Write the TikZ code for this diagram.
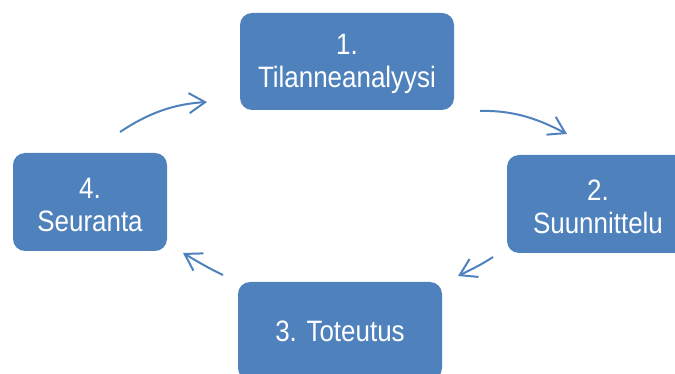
\documentclass[tikz,border=0pt]{standalone}
\usepackage{fontspec}
\setmainfont{Liberation Sans}
\newfontfamily\boxfont[FakeStretch=0.88]{Liberation Sans}
\usetikzlibrary{arrows.meta}
\definecolor{boxblue}{HTML}{4F81BD}
\newcommand{\topstrut}{\rule{0pt}{26pt}}
\tikzset{
  stepbox/.style={fill=boxblue, draw=none, rounded corners=12pt, text=white,
    align=center, font=\boxfont\fontsize{29.5pt}{33pt}\selectfont, inner sep=0pt},
  cyclearrow/.style={draw=boxblue, line width=2pt,
    -{Straight Barb[length=16pt,width=20pt,line width=2pt]}}
}
\begin{document}
\begin{tikzpicture}[x=1pt,y=-1pt]
\useasboundingbox (0,0) rectangle (675,374);
\begin{scope}
\clip (0,0) rectangle (675,374);
\node[stepbox, minimum width=214pt, minimum height=97pt] (s1) at (347,61.5) {\topstrut 1.\\Tilanneanalyysi};
\node[stepbox, minimum width=182pt, minimum height=98pt] (s2) at (598,204) {\topstrut 2.\\Suunnittelu};
\node[stepbox, minimum width=204pt, minimum height=98pt] (s3) at (340,331) {3. Toteutus};
\node[stepbox, minimum width=154pt, minimum height=98pt] (s4) at (90,202) {\topstrut 4.\\Seuranta};
\end{scope}
\coordinate (a1s) at (120,132);
\coordinate (a1e) at (207,102);
\coordinate (a2s) at (480,111);
\coordinate (a2e) at (567,134);
\coordinate (a3s) at (493,257);
\coordinate (a3e) at (458,276);
\coordinate (a4s) at (223,275);
\coordinate (a4e) at (183,253);
\draw[cyclearrow] (a1s) .. controls (150,112) and (175,104) .. (a1e);
\draw[cyclearrow] (a2s) .. controls (515,110) and (540,120) .. (a2e);
\draw[cyclearrow] (a3s) .. controls (481,265) and (470,270) .. (a3e);
\draw[cyclearrow] (a4s) .. controls (208,268) and (195,260) .. (a4e);
\end{tikzpicture}
\end{document}
